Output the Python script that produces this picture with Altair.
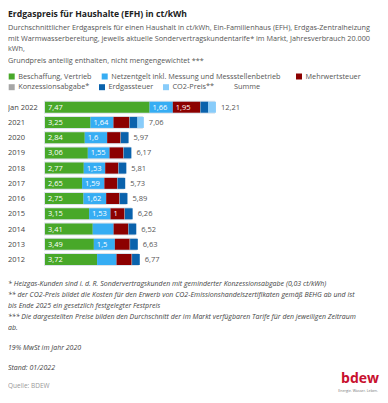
import altair as alt
import pandas as pd

years = ["Jan 2022", "2021", "2020", "2019", "2018", "2017", "2016", "2015", "2014", "2013", "2012"]
beschaffung = [7.47, 3.25, 2.84, 3.06, 2.77, 2.65, 2.75, 3.15, 3.41, 3.49, 3.72]
netzentgelt = [1.66, 1.64, 1.60, 1.55, 1.53, 1.59, 1.62, 1.53, 1.49, 1.50, 1.39]
mehrwertsteuer = [1.95, 1.13, 0.95, 0.98, 0.93, 0.91, 0.94, 1.00, 1.04, 1.06, 1.08]
konzession = [0.03, 0.03, 0.03, 0.03, 0.03, 0.03, 0.03, 0.03, 0.03, 0.03, 0.03]
erdgassteuer = [0.55, 0.55, 0.55, 0.55, 0.55, 0.55, 0.55, 0.55, 0.55, 0.55, 0.55]
co2_preis = [0.55, 0.46, 0, 0, 0, 0, 0, 0, 0, 0, 0]
summe = [12.21, 7.06, 5.97, 6.17, 5.81, 5.73, 5.89, 6.26, 6.52, 6.63, 6.77]

series_names = ["Beschaffung, Vertrieb", "Netzentgelt inkl. Messung und Messstellenbetrieb",
                "Mehrwertsteuer", "Konzessionsabgabe*", "Erdgassteuer", "CO2-Preis**"]
series_colors = ["#48a829", "#36adf3", "#8c0000", "#a6a6a6", "#0a62ac", "#88ccfa"]
# which segment values are printed inside the bars (per series, per year)
shown_labels = {
    "Beschaffung, Vertrieb": years,
    "Netzentgelt inkl. Messung und Messstellenbetrieb":
        ["Jan 2022", "2021", "2020", "2019", "2018", "2017", "2016", "2015", "2013"],
    "Mehrwertsteuer": ["Jan 2022", "2015"],
}

title = "Erdgaspreis für Haushalte (EFH) in ct/kWh"
subtitle = [
    "Durchschnittlicher Erdgaspreis für einen Haushalt in ct/kWh, Ein-Familienhaus (EFH), Erdgas-Zentralheizung",
    "mit Warmwasserbereitung, jeweils aktuelle Sondervertragskundentarife* im Markt, Jahresverbrauch 20.000",
    "kWh,",
    "Grundpreis anteilig enthalten, nicht mengengewichtet ***",
]
notes = [
    "* Heizgas-Kunden sind i. d. R. Sondervertragskunden mit geminderter Konzessionsabgabe (0,03 ct/kWh)",
    "** der CO2-Preis bildet die Kosten für den Erwerb von CO2-Emissionshandelszertifikaten gemäß BEHG ab und ist",
    "bis Ende 2025 ein gesetzlich festgelegter Festpreis",
    "*** Die dargestellten Preise bilden den Durchschnitt der im Markt verfügbaren Tarife für den jeweiligen Zeitraum",
    "ab.",
]
note_mwst = "19% MwSt im Jahr 2020"
note_stand = "Stand: 01/2022"
source = "Quelle: BDEW"

FONT = "Open Sans"

# ---------- data tables ----------
values = [beschaffung, netzentgelt, mehrwertsteuer, konzession, erdgassteuer, co2_preis]
rows = []
for i, y in enumerate(years):
    start = 0.0
    for name, vals in zip(series_names, values):
        v = vals[i]
        lab = f"{v:g}".replace(".", ",")
        show = y in shown_labels.get(name, [])
        rows.append(dict(year=y, series=name, start=start, end=start + v, value=v,
                         label=lab, show=show))
        start += v
seg = pd.DataFrame(rows)
seg = seg[seg["value"] > 0]
tot = pd.DataFrame(dict(year=years, total=summe,
                        label=[f"{v:.2f}".replace(".", ",") for v in summe]))

W, H = 372, 386
xscale = alt.Scale(domain=[0, 20], range=[37, 37 + 14.0 * 20])
yscale = alt.Scale(domain=years, range=[91.6, 259.1], paddingInner=0, paddingOuter=0)
Y = alt.Y("year:N", sort=years, scale=yscale, axis=None)

bg = alt.Chart(tot).mark_bar(size=13, color="#dde4ec", xOffset=-1, x2Offset=1).encode(
    x=alt.X("total:Q", scale=xscale, axis=None), y=Y)

bars = alt.Chart(seg).mark_bar(size=11).encode(
    x=alt.X("start:Q", scale=xscale, axis=None),
    x2="end:Q",
    y=Y,
    color=alt.Color("series:N", scale=alt.Scale(domain=series_names, range=series_colors), legend=None),
)

seglabels = alt.Chart(seg).transform_filter("datum.show").mark_text(
    align="left", baseline="middle", dx=3, dy=0.5, font=FONT, fontSize=7.5, color="white"
).encode(x=alt.X("start:Q", scale=xscale, axis=None), y=Y, text="label:N")

totlabels = alt.Chart(tot).mark_text(
    align="left", baseline="middle", dx=5, dy=0.5, font=FONT, fontSize=7.5, color="#555555"
).encode(x=alt.X("total:Q", scale=xscale, axis=None), y=Y, text="label:N")

ylabels = alt.Chart(tot).mark_text(
    align="left", baseline="middle", dy=0.5, font=FONT, fontSize=7.5, color="#444444"
).encode(x=alt.value(0), y=Y, text="year:N")

one = pd.DataFrame({"a": [0]})


def txt(s, x, y, size=7.3, color="#555555", weight="normal", style="normal",
        align="left", baseline="alphabetic", font=FONT):
    return alt.Chart(one).mark_text(
        text=s, align=align, baseline=baseline, font=font, fontSize=size,
        color=color, fontWeight=weight, fontStyle=style
    ).encode(x=alt.value(x), y=alt.value(y))


def sq(color, x, y):
    return alt.Chart(one).mark_square(size=36, color=color, opacity=1).encode(
        x=alt.value(x), y=alt.value(y))


layers = [bg, bars, seglabels, totlabels, ylabels]

layers.append(txt(title, 0, 8.8, size=8.6, color="#222222", weight="bold"))
for s, yy in zip(subtitle, [22.2, 32.5, 42.8, 55.2]):
    layers.append(txt(s, 0, yy, size=7.25))

# legend (flowing, two rows)
leg_pos = [(0.7, 68.5), (93.7, 68.5), (288, 68.5), (0.7, 79.2), (91, 79.2), (155, 79.2)]
for k, (lx, ly) in enumerate(leg_pos):
    layers.append(sq(series_colors[k], lx + 3, ly))
    layers.append(txt(series_names[k], lx + 9.5, ly, size=7.3, baseline="middle"))
layers.append(txt("Summe", 226, 79.2, size=7.3, baseline="middle"))

for s, yy in zip(notes, [277.5, 288.7, 299.9, 311.1, 322.3]):
    layers.append(txt(s, 0, yy, size=7.0, color="#444444", style="italic"))
layers.append(txt(note_mwst, 0, 342.0, size=7.0, color="#444444", style="italic"))
layers.append(txt(note_stand, 0, 362.0, size=7.0, color="#444444", style="italic"))
layers.append(txt(source, 0, 380.0, size=6.5, color="#999999"))

# logo
layers.append(txt("bdew", W - 1, 374.5, size=14, color="#c8102e", weight="bold", align="right"))
layers.append(txt("Energie. Wasser. Leben.", W - 2, 383.5, size=3.6, color="#777777", align="right"))

chart = alt.layer(*layers).properties(
    width=W, height=H, padding=0, background="white",
    autosize=alt.AutoSizeParams(type="none"),
).configure_view(stroke=None)

chart.save("out.html", embed_options={"renderer": "svg", "actions": False})
